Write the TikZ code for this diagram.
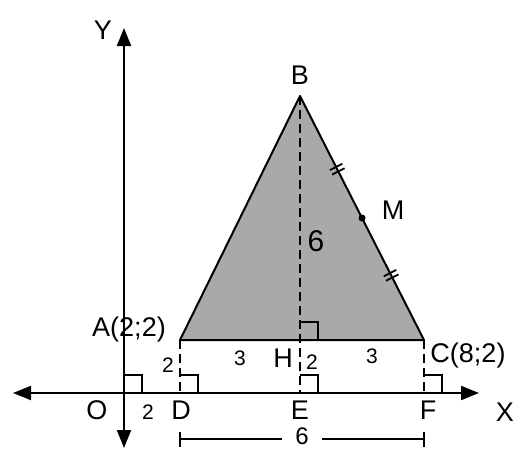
\documentclass[tikz,border=0pt]{standalone}
\usepackage{fontspec}
\setmainfont{Liberation Sans}
\usetikzlibrary{arrows.meta,decorations.markings}
\definecolor{trifill}{HTML}{A7A9AB}
\begin{document}
\begin{tikzpicture}[x=1pt,y=-1pt,
  ln/.style={line width=2pt},
  axis/.style={line width=2pt,{Triangle[length=18pt,width=14pt]}-{Triangle[length=18pt,width=14pt]}},
  dashline/.style={line width=2pt,dash pattern=on 9pt off 5pt},
  ra/.style={line width=1.8pt},
  lbl/.style={font=\fontsize{27}{27}\selectfont, inner sep=0pt},
  small/.style={font=\fontsize{21}{21}\selectfont, inner sep=0pt},
  dtick/.style={postaction={decorate,decoration={markings,mark=at position #1 with {\draw[line width=1.8pt] (-2.5pt,-7pt)--(-2.5pt,7pt) (2.5pt,-7pt)--(2.5pt,7pt);}}}}]
\useasboundingbox (0,0) rectangle (515,450);
\coordinate (O) at (124,393);
\coordinate (A) at (180,340);
\coordinate (B) at (300,96);
\coordinate (C) at (424,340);
\coordinate (H) at (300,340);
\coordinate (D) at (180,393);
\coordinate (E) at (300,393);
\coordinate (F) at (424,393);
\coordinate (M) at (362,218);
\coordinate (XL) at (13,393);
\coordinate (XR) at (479,393);
\coordinate (YT) at (124,28);
\coordinate (YB) at (124,448);
\coordinate (P) at (180,439);
\coordinate (Q) at (424,439);
% triangle
\fill[trifill] (A)--(B)--(C)--cycle;
\draw[dashline] (B)--(H)--(E);
\draw[dashline] (A)--(D);
\draw[dashline] (C)--(F);
\draw[ln,line join=round] (A)--(B)--(C)--cycle;
\path[dtick=0.6] (B)--(M);
\path[dtick=0.47] (M)--(C);
\fill (M) circle (3.5pt);
% axes
\draw[axis] (XL)--(XR);
\draw[axis] (YB)--(YT);
% right angles
\draw[ra] (124,375)--(142,375)--(142,393);
\draw[ra] (180,375)--(198,375)--(198,393);
\draw[ra] (300,375)--(318,375)--(318,393);
\draw[ra] (424,375)--(442,375)--(442,393);
\draw[ra] (300,322)--(318,322)--(318,340);
% dimension
\node[lbl,font=\fontsize{24}{24}\selectfont] (six) at (302,436) {6};
\draw[ln] (P)--(282,439);
\draw[ln] (322,439)--(Q);
\draw[ln] (180,432)--(180,447);
\draw[ln] (424,432)--(424,447);
% labels
\node[lbl] (lY) at (103,30) {Y};
\node[lbl] (lB) at (300,75) {B};
\node[lbl] (lM) at (393,210) {M};
\node[lbl,font=\fontsize{30}{30}\selectfont] (lh) at (316,241) {6};
\node[lbl] (lA) at (129,330) {A(2;2)};
\node[small] (lAD) at (168,365) {2};
\node[small] (lAH) at (240,358) {3};
\node[lbl] (lH) at (283,358) {H};
\node[small] (lHE) at (312,362) {2};
\node[small] (lHC) at (372,356) {3};
\node[lbl] (lC) at (468,356) {C(8;2)};
\node[lbl] (lO) at (97,410) {O};
\node[small] (lOD) at (148,412) {2};
\node[lbl] (lD) at (181,410) {D};
\node[lbl] (lE) at (300,410) {E};
\node[lbl] (lF) at (428,410) {F};
\node[lbl] (lX) at (505,412) {X};
\end{tikzpicture}
\end{document}
